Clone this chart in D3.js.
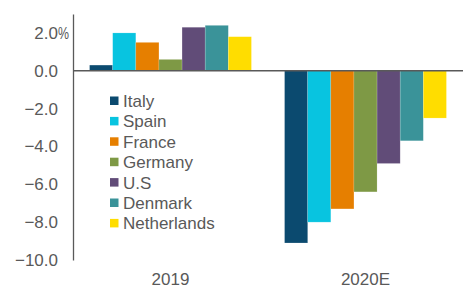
<!DOCTYPE html>
<html>
<head>
<meta charset="utf-8">
<script src="https://cdn.jsdelivr.net/npm/d3@7"></script>
<style>
  body { margin: 0; background: #fff; }
  text { font-family: "Liberation Sans", Arial, sans-serif; fill: #595959; }
</style>
</head>
<body>
<script>
var width = 466,
    height = 289;

// data
var years = ["2019", "2020E"];
var countries = ["Italy", "Spain", "France", "Germany", "U.S", "Denmark", "Netherlands"];
var colors = ["#0b4a6f", "#08c4e0", "#e67f00", "#7e9945", "#614c78", "#3a9399", "#ffdd00"];
var values2019 = [0.3, 2.0, 1.5, 0.6, 2.3, 2.4, 1.8];
var values2020 = [-9.1, -8.0, -7.3, -6.4, -4.9, -3.7, -2.5];
var yTicks = [2, 0, -2, -4, -6, -8, -10];

var series = [values2019, values2020];
var fontSize = "17px";

var svg = d3.select("body").append("svg")
    .attr("width", width)
    .attr("height", height);

var x = d3.scaleBand()
    .domain(years)
    .range([73, 463])
    .paddingInner(0.17)
    .paddingOuter(0.085);

var xc = d3.scaleBand()
    .domain(countries)
    .range([0, x.bandwidth()]);

var y = d3.scaleLinear()
    .domain([-10, 3])
    .range([260, 14]);

// bars
var groups = svg.append("g").selectAll("g")
    .data(years)
    .enter().append("g")
    .attr("transform", function(d) { return "translate(" + x(d) + ",0)"; });

groups.selectAll("rect")
    .data(function(d, i) {
      return series[i].map(function(v, j) { return {country: countries[j], value: v, color: colors[j]}; });
    })
    .enter().append("rect")
    .attr("x", d => xc(d.country))
    .attr("width", xc.bandwidth())
    .attr("y", d => y(Math.max(0, d.value)))
    .attr("height", d => Math.abs(y(d.value) - y(0)))
    .attr("fill", d => d.color)
    .attr("stroke", "#ffffff")
    .attr("stroke-opacity", 0.25)
    .attr("stroke-width", 0.6);

// y axis
var yAxis = svg.append("g")
    .attr("transform", "translate(73,0)")
    .call(d3.axisLeft(y).tickValues(yTicks).tickSize(0).tickPadding(15)
      .tickFormat(d3.format(".1f")));
yAxis.select(".domain").attr("stroke", "#595959").attr("stroke-width", 1.3);
yAxis.selectAll("text")
    .style("font-size", fontSize)
    .style("font-family", "Liberation Sans, Arial, sans-serif")
    .attr("fill", "#595959");
yAxis.selectAll(".tick").filter(d => d === 2).append("text")
    .attr("x", -15)
    .attr("dy", "0.32em")
    .attr("text-anchor", "start")
    .attr("textLength", 11)
    .attr("lengthAdjust", "spacingAndGlyphs")
    .style("font-size", fontSize)
    .attr("fill", "#595959")
    .text("%");

// zero line
svg.append("line")
    .attr("x1", 73).attr("x2", 463)
    .attr("y1", y(0)).attr("y2", y(0))
    .attr("stroke", "#595959")
    .attr("stroke-width", 1.3);

// category labels
svg.append("g").selectAll("text")
    .data(years)
    .enter().append("text")
    .attr("x", d => x(d) + x.bandwidth() / 2)
    .attr("y", 285)
    .attr("text-anchor", "middle")
    .style("font-size", fontSize)
    .text(d => d);

// legend
var legend = svg.append("g").attr("transform", "translate(110,101)");
var item = legend.selectAll("g")
    .data(countries)
    .enter().append("g")
    .attr("transform", function(d, i) { return "translate(0," + (i * 20.4) + ")"; });
item.append("rect")
    .attr("x", 0).attr("y", -4.5)
    .attr("width", 8.5).attr("height", 8.5)
    .attr("fill", (d, i) => colors[i]);
item.append("text")
    .attr("x", 13)
    .attr("dy", "0.35em")
    .style("font-size", fontSize)
    .text(d => d);
</script>
</body>
</html>
